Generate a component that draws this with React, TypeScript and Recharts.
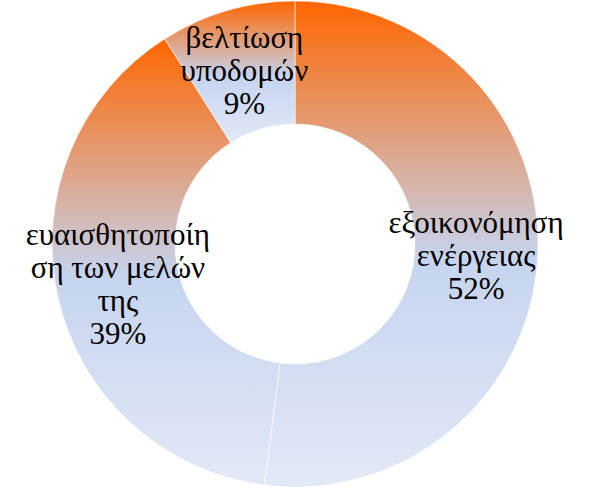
import { Cell, Pie, PieChart } from "recharts";

// Τομείς του δακτυλίου, δεξιόστροφα από την κορυφή
const categories = [
  "εξοικονόμηση ενέργειας",
  "ευαισθητοποίηση των μελών της",
  "βελτίωση υποδομών",
];
const values = [52, 39, 9];
// Οι γραμμές των ετικετών όπως σπάνε στο πρωτότυπο
const labelLines = [
  ["εξοικονόμηση", "ενέργειας"],
  ["ευαισθητοποίη", "ση των μελών", "της"],
  ["βελτίωση", "υποδομών"],
];

const data = categories.map((name, i) => ({ name, value: values[i], lines: labelLines[i] }));

const RAD = Math.PI / 180;
const LINE_H = 33;

function renderLabel(props: any) {
  const { cx, cy, midAngle, innerRadius, outerRadius, percent, index } = props;
  const r = (innerRadius + outerRadius) / 2;
  const x = cx + r * Math.cos(-midAngle * RAD);
  const y = cy + r * Math.sin(-midAngle * RAD);
  const lines = [...data[index].lines, `${Math.round(percent * 100)}%`];
  const y0 = y - ((lines.length - 1) * LINE_H) / 2;
  return (
    <text
      x={x}
      y={y0}
      textAnchor="middle"
      dominantBaseline="central"
      fill="#000"
      fontSize={31}
      fontFamily="Liberation Serif"
    >
      {lines.map((l, i) => (
        <tspan key={i} x={x} y={y0 + i * LINE_H}>
          {l}
        </tspan>
      ))}
    </text>
  );
}

export default function App() {
  return (
    <div style={{ position: "absolute", left: 0, top: 0, width: 595, height: 487, background: "#fff" }}>
      <PieChart width={595} height={487} margin={{ top: 0, right: 0, bottom: 0, left: 0 }}>
        <defs>
          <linearGradient id="fillGrad" x1="0" y1="0" x2="0" y2="1">
            <stop offset="0%" stopColor="#FF6600" />
            <stop offset="53%" stopColor="#C5D4EF" />
            <stop offset="100%" stopColor="#E2E9F6" />
          </linearGradient>
        </defs>
        <Pie
          data={data}
          dataKey="value"
          nameKey="name"
          cx={295}
          cy={244}
          innerRadius={120}
          outerRadius={243}
          startAngle={90}
          endAngle={-270}
          stroke="#ffffff"
          strokeWidth={0.6}
          label={renderLabel}
          labelLine={false}
          isAnimationActive={false}
        >
          {data.map((d, i) => (
            <Cell key={i} fill="url(#fillGrad)" />
          ))}
        </Pie>
      </PieChart>
    </div>
  );
}
